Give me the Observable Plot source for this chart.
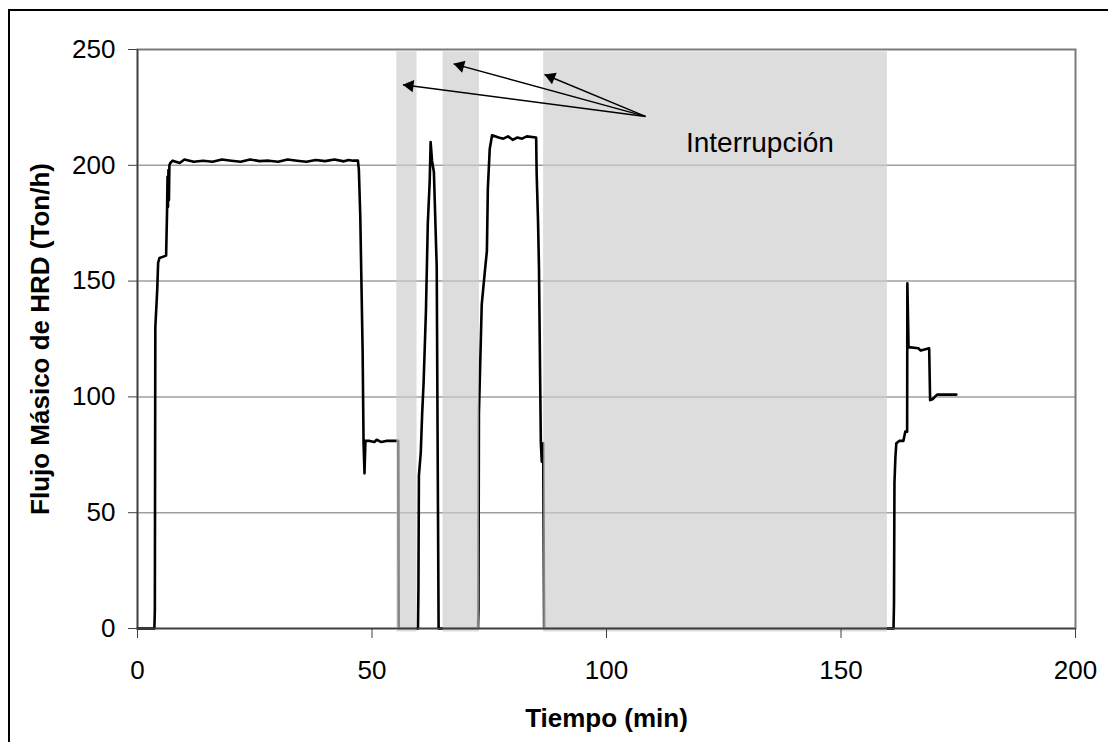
<!DOCTYPE html>
<html><head><meta charset="utf-8">
<script src="https://cdn.jsdelivr.net/npm/d3@7"></script>
<script src="https://cdn.jsdelivr.net/npm/@observablehq/plot@0.6"></script>
<style>
body{margin:0;background:#fff;font-family:"Liberation Sans",Arial,sans-serif;}
#wrap{position:relative;width:1108px;height:742px;overflow:hidden;background:#fff;}
#chart{position:absolute;left:0;top:0;}
#border{position:absolute;left:8px;top:9px;width:1200px;height:900px;border:2px solid #000;pointer-events:none;}
</style></head><body>
<div id="wrap"><div id="chart"></div><div id="border"></div></div>
<script>
// Series: HRD mass flow (Ton/h) vs time (min)
const time = [0,3.6,3.7,3.8,4.2,4.4,4.7,6.1,6.3,6.4,6.5,6.6,6.7,6.8,7.0,7.5,
  9,10,12,14,16,18,20,22,24,26,28,30,32,34,36,38,40,42,44,45,46,47.0,
  47.2,47.5,48.0,48.2,48.4,48.6,49.5,50.5,51,52,53,55.6,55.7,59.8,
  59.9,60.0,60.4,60.7,61.0,61.5,61.9,62.3,62.5,62.8,63.2,63.8,64.2,72.6,
  72.7,72.8,73.4,74.1,74.5,74.7,75.1,75.6,77,78,79,80,81,82,83,85.0,
  85.1,85.4,85.6,86.0,86.2,86.5,86.7,161.2,
  161.3,161.4,161.6,161.8,162.4,163.3,163.7,164.1,164.15,164.4,166.5,167,168.8,169.0,169.5,170.5,174.6];
const flow = [0,0,8,130,146,158,160,161,180,195,182,198,185,200,201,202,
  201,202.5,201.5,202,201.5,202.5,202,201.5,202.5,201.8,202,201.5,202.5,202,201.5,202.3,201.8,202.5,201.7,202.3,202,202,
  198,178,120,80,67,81,81,80.5,81.5,80.5,81,81,0,0,
  17,66,76,93,106,137,175,193,210,202,197,156,0,0,
  8,93,140,155,163,190,207,213,212,211.5,212.5,211,212,211.5,212.5,212,
  197,176,156,80,72,80,0,0,
  11,63,74,80,81,81,85,85,149,121.5,121,120,121,98.6,99,101,101];

// Interruption bands (min)
const bandStart = [55.3, 65.15, 86.6];
const bandEnd   = [59.6, 72.9, 159.9];
const bandLow = -1.5, bandHigh = 249;

// Annotation arrows
const arrowFromX = [108.3, 108.3, 108.3];
const arrowFromY = [221.1, 221.1, 221.1];
const arrowToX   = [56.6, 67.4, 86.8];
const arrowToY   = [234.8, 243.8, 239.2];
const noteText = ["Interrupción"];
const noteX = [132.7], noteY = [209.8];

const xTicks = [0, 50, 100, 150, 200];
const yTicks = [0, 50, 100, 150, 200, 250];
const gridTicks = [50, 100, 150, 200];
const xTitle = "Tiempo (min)";
const yTitle = "Flujo Másico de HRD (Ton/h)";

const series = time.map((t, i) => ({t, v: flow[i]}));
const bands = bandStart.map((s, i) => ({x1: s, x2: bandEnd[i], y1: bandLow, y2: bandHigh}));
const arrows = arrowFromX.map((x, i) => ({x1: x, y1: arrowFromY[i], x2: arrowToX[i], y2: arrowToY[i]}));

const base = {
  width: 1108, height: 742,
  marginLeft: 137, marginRight: 33, marginTop: 49, marginBottom: 114,
  style: {fontFamily: "'Liberation Sans', Arial, sans-serif", fontSize: "26px", background: "transparent", color: "#000"},
  x: {domain: [0, 200]},
  y: {domain: [0, 250]}
};

function marks(heads) {
  return [
    Plot.gridY(gridTicks, {stroke: "#a0a0a0", strokeOpacity: 1, strokeWidth: 1.5}),
    Plot.frame({stroke: "#7a7a7a", strokeWidth: 2}),
    Plot.line(series, {x: "t", y: "v", stroke: "#000", strokeWidth: 2.6, curve: "linear"}),
    Plot.rect(bands, {x1: "x1", x2: "x2", y1: "y1", y2: "y2", fill: "#cccccc", fillOpacity: 0.667}),
    Plot.ruleX([0], {stroke: "#404040", strokeWidth: 1.5}),
    Plot.ruleY([0], {stroke: "#404040", strokeWidth: 1.5}),
    Plot.axisY({ticks: yTicks, tickSize: 9, tickPadding: 13, label: null, stroke: "#404040", fontSize: 26}),
    Plot.axisX({ticks: xTicks, tickSize: 10, tickPadding: 22, label: null, stroke: "#404040", fontSize: 26}),
    Plot.link(arrows, {x1: "x1", y1: "y1", x2: "x2", y2: "y2", stroke: "#000", strokeWidth: 1.4}),
    Plot.dot(heads, {x: "x", y: "y", symbol: "triangle", r: 4.6, fill: "#000", stroke: "none", rotate: "rot"}),
    Plot.text(noteText, {x: () => noteX[0], y: () => noteY[0], text: d => d, fontSize: 28, fill: "#000", textAnchor: "middle", lineAnchor: "middle"}),
    Plot.text([xTitle], {frameAnchor: "bottom", dy: 90, fontSize: 26, fontWeight: "bold", lineAnchor: "middle", fill: "#000"}),
    Plot.text([yTitle], {frameAnchor: "left", dx: -97, rotate: -90, fontSize: 26, fontWeight: "bold", lineAnchor: "middle", textAnchor: "middle", fill: "#000"})
  ];
}

// first pass to get scales for arrowhead orientation
const probe = Plot.plot({...base, marks: [Plot.frame()]});
const sx = probe.scale("x"), sy = probe.scale("y");
const heads = arrows.map(a => {
  const px1 = sx.apply(a.x1), py1 = sy.apply(a.y1), px2 = sx.apply(a.x2), py2 = sy.apply(a.y2);
  const dx = px2 - px1, dy = py2 - py1, L = Math.hypot(dx, dy);
  const ux = dx / L, uy = dy / L;
  const cx = px2 - 7 * ux, cy = py2 - 7 * uy;
  return {x: sx.invert(cx), y: sy.invert(cy), rot: Math.atan2(dx, -dy) * 180 / Math.PI};
});

const chart = Plot.plot({...base, marks: marks(heads)});
document.getElementById("chart").appendChild(chart);
</script>
</body></html>
